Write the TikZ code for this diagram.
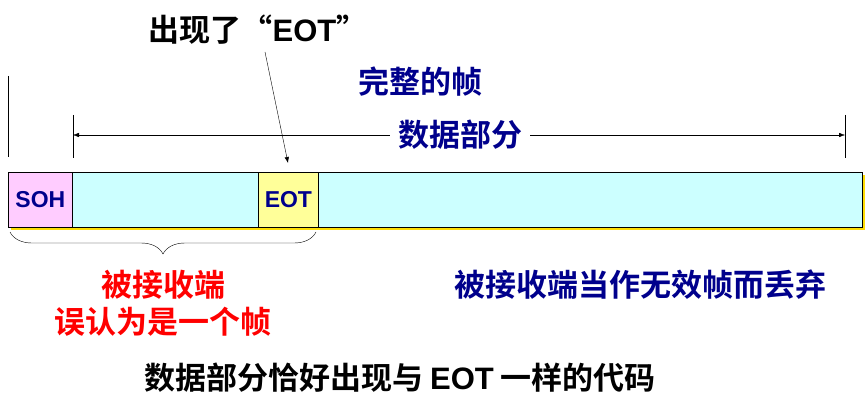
\documentclass[tikz,border=0pt]{standalone}
\usepackage{fontspec}
\setmainfont{Noto Sans CJK SC}[BoldFont={Noto Sans CJK SC Bold}]
\newfontfamily\latinf{Liberation Sans}
\usetikzlibrary{decorations.pathreplacing,arrows.meta}
\definecolor{navy}{RGB}{0,0,140}
\definecolor{pinkc}{RGB}{255,204,255}
\definecolor{cyanc}{RGB}{204,255,255}
\definecolor{yelc}{RGB}{255,255,153}
\tikzset{lbl/.style={font=\fontsize{31}{34}\selectfont\bfseries,inner sep=0pt},
 cell/.style={draw=black,line width=0.8pt,inner sep=0pt,anchor=north west},
 fld/.style={font=\fontsize{23}{26}\selectfont\bfseries\latinf,text=navy}}
\begin{document}
\begin{tikzpicture}[x=1pt,y=-1pt]
\useasboundingbox (0,0) rectangle (866,414);
\fill[yellow!80!orange] (11,175) rectangle (865,230);
\node[cell,fill=cyanc,minimum width=854pt,minimum height=55pt] (bar) at (8,172) {};
\node[cell,fill=pinkc,minimum width=64pt,minimum height=55pt] (soh) at (8,172) {};
\node[cell,fill=yelc,minimum width=60pt,minimum height=55pt] (eot) at (258,172) {};
\node[fld] at (soh.center) {SOH};
\node[fld] at (eot.center) {EOT};
\coordinate (l0) at (8,76); \coordinate (l1) at (8,157);
\coordinate (a0) at (73,115); \coordinate (a1) at (73,158);
\coordinate (b0) at (845,115); \coordinate (b1) at (845,158);
\draw (l0)--(l1); \draw (a0)--(a1); \draw (b0)--(b1);
\node[lbl,text=navy,fill=white,inner xsep=8pt] (data) at (460,135) {数据部分};
\draw[-{Latex[length=6pt]}] (data.west)--(73,135);
\draw[-{Latex[length=6pt]}] (data.east)--(845,135);
\node[lbl,text=navy] (full) at (420,82) {完整的帧};
\node[lbl,text=black] (appear) at (258,30) {出现了“{\latinf EOT}”};
\coordinate (tip) at (288,163);
\draw[-{Latex[length=6pt]}] (265,52)--(tip);
\draw[decorate,decoration={brace,mirror,amplitude=22pt}] (10,232)--(316,232);
\node[lbl,text=red] (r1) at (163,285) {被接收端};
\node[lbl,text=red] (r2) at (163,322) {误认为是一个帧};
\node[lbl,text=navy] (disc) at (640,285) {被接收端当作无效帧而丢弃};
\node[lbl,text=black] (bot) at (400,378) {数据部分恰好出现与 {\latinf EOT} 一样的代码};
\end{tikzpicture}
\end{document}
